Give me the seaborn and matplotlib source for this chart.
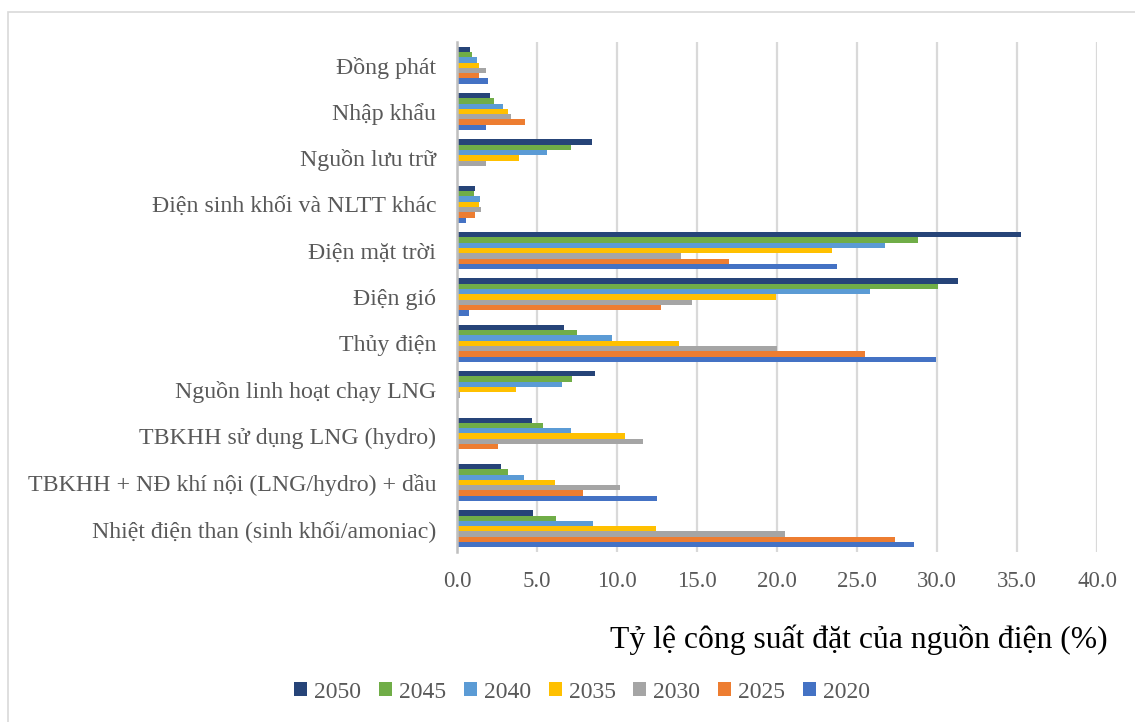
import pandas as pd
import matplotlib.pyplot as plt
import matplotlib.patches as patches
from matplotlib.ticker import FormatStrFormatter, MultipleLocator
import seaborn as sns

sns.set_theme(style="white")
plt.rcParams['font.family'] = ['Liberation Serif', 'DejaVu Serif']

# Data
sources = ['Đồng phát', 'Nhập khẩu', 'Nguồn lưu trữ', 'Điện sinh khối và NLTT khác',
           'Điện mặt trời', 'Điện gió', 'Thủy điện', 'Nguồn linh hoạt chạy LNG',
           'TBKHH sử dụng LNG (hydro)', 'TBKHH + NĐ khí nội (LNG/hydro) + dầu',
           'Nhiệt điện than (sinh khối/amoniac)']
years = ['2050', '2045', '2040', '2035', '2030', '2025', '2020']
v2050 = [0.83, 2.04, 8.46, 1.13, 35.27, 31.33, 6.71, 8.60, 4.71, 2.77, 4.75]
v2045 = [0.94, 2.33, 7.15, 1.08, 28.80, 30.08, 7.48, 7.19, 5.38, 3.17, 6.19]
v2040 = [1.25, 2.88, 5.63, 1.42, 26.75, 25.83, 9.69, 6.54, 7.15, 4.19, 8.50]
v2035 = [1.35, 3.19, 3.88, 1.35, 23.44, 19.94, 13.88, 3.70, 10.48, 6.15, 12.44]
v2030 = [1.83, 3.40, 1.81, 1.52, 14.00, 14.69, 20.00, 0.20, 11.65, 10.17, 20.52]
v2025 = [1.35, 4.23, 0.00, 1.13, 17.02, 12.75, 25.50, 0.00, 2.56, 7.88, 27.38]
v2020 = [1.94, 1.81, 0.00, 0.56, 23.73, 0.77, 29.96, 0.00, 0.00, 12.48, 28.56]
colors = ['#264478', '#70AD47', '#5B9BD5', '#FFC000', '#A5A5A5', '#ED7D31', '#4472C4']

series = [v2050, v2045, v2040, v2035, v2030, v2025, v2020]
rows = []
for yr, vals in zip(years, series):
    for src, v in zip(sources, vals):
        rows.append({'source': src, 'year': yr, 'value': v})
df = pd.DataFrame(rows)

fig = plt.figure(figsize=(11.35, 7.22), dpi=100)
ax = fig.add_axes([457/1135, 1-552/722, 640/1135, 510/722])

sns.barplot(data=df, x='value', y='source', hue='year', order=sources,
            hue_order=years, palette=colors, orient='h', width=0.8,
            linewidth=0, saturation=1, ax=ax, legend=True)

text_col = '#595959'
ax.set_xlim(0, 40)
ax.xaxis.set_major_locator(MultipleLocator(5))
ax.xaxis.set_major_formatter(FormatStrFormatter('%.1f'))
ax.grid(axis='x', color='#D9D9D9', linewidth=1.6)
ax.set_axisbelow(True)
for s in ['top', 'right', 'bottom']:
    ax.spines[s].set_visible(False)
ax.spines['left'].set_color('#BFBFBF')
ax.spines['left'].set_linewidth(1.8)
ax.tick_params(axis='y', length=0, pad=15, labelsize=17.2, labelcolor=text_col)
ax.tick_params(axis='x', length=0, pad=14, labelsize=16.5, labelcolor=text_col)
ax.set_ylabel('')
ax.set_xlabel('')

fig.text(859/1135, 1-640/722, 'Tỷ lệ công suất đặt của nguồn điện (%)',
         ha='center', va='center', fontsize=22.8, color='black')

handles, labels = ax.get_legend_handles_labels()
ax.get_legend().remove()
fig.legend(handles, labels, loc='center', bbox_to_anchor=(582/1135, 1-692/722),
           ncol=7, frameon=False, fontsize=17, handlelength=0.55, handleheight=0.55,
           handletextpad=0.3, columnspacing=0.75, labelcolor=text_col)

# outer chart border
fig.patches.append(patches.Rectangle((8/1135, -0.05), 1.1, 1-12/722+0.05,
                                     transform=fig.transFigure, fill=False,
                                     edgecolor='#D9D9D9', linewidth=1.2))

fig.savefig('out.png', dpi=100)
